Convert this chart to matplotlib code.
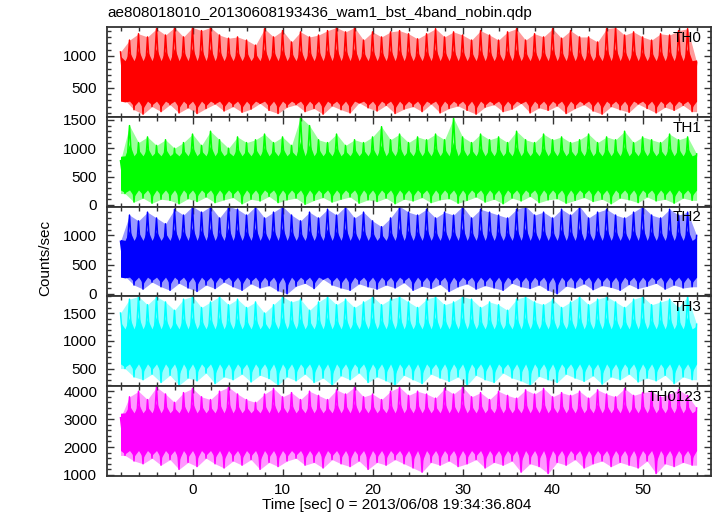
import numpy as np
import matplotlib
matplotlib.use("Agg")
import matplotlib.pyplot as plt
from matplotlib.ticker import MultipleLocator, AutoMinorLocator

plt.rcParams['font.family'] = ['Liberation Sans', 'DejaVu Sans']

title = "ae808018010_20130608193436_wam1_bst_4band_nobin.qdp"
xlabel = "Time [sec] 0 = 2013/06/08 19:34:36.804"
ylabel = "Counts/sec"

names = ["TH0", "TH1", "TH2", "TH3", "TH0123"]
colors = ["#ff0000", "#00ff00", "#0000ff", "#00ffff", "#ff00ff"]

# envelope read per second, t = -8 .. 56 (peaks at whole seconds, dips between)
t_start, t_end = -8, 56

th0_hi = [1063, 1250, 1350, 1300, 1430, 1330, 1450, 1300, 1450, 1400, 1450, 1330, 1280,
          1300, 1250, 1170, 1430, 1300, 1400, 1220, 1380, 1300, 1330, 1400, 1450, 1380,
          1450, 1250, 1380, 1300, 1380, 1400, 1350, 1270, 1350, 1430, 1300, 1380, 1330,
          1250, 1400, 1330, 1250, 1380, 1430, 1250, 1350, 1300, 1430, 1280, 1400, 1300,
          1300, 1220, 1430, 1450, 1330, 1380, 1300, 1250, 1350, 1330, 1400, 1430, 900]
th0_lo = [300, 150, 80, 200, 120, 230, 100, 180, 90, 170, 240, 130, 200, 110, 160, 250,
          140, 90, 190, 230, 120, 170, 80, 210, 150, 100, 260, 180, 130, 220, 90, 160,
          200, 120, 240, 100, 170, 210, 140, 80, 190, 230, 120, 160, 250, 100, 180, 140,
          210, 90, 170, 230, 130, 80, 200, 150, 110, 240, 170, 100, 190, 140, 220, 120]

th1_hi = [780, 1400, 1100, 1200, 1050, 1150, 1000, 1100, 1250, 1050, 1300, 1150, 1000,
          1200, 1100, 1150, 1250, 1100, 1200, 1050, 1550, 1400, 1150, 1100, 1250, 1050,
          1150, 1100, 1200, 1380, 1150, 1250, 1100, 1200, 1150, 1250, 1150, 1530, 1200,
          1100, 1250, 1150, 1200, 1100, 1300, 1150, 1100, 1250, 1150, 1200, 1100, 1150,
          1250, 1100, 1200, 1150, 1300, 1100, 1200, 1150, 1100, 1250, 1150, 1200, 900]
th1_lo = [200, 50, 120, 30, 100, 80, 20, 110, 60, 140, 40, 90, 130, 20, 100, 70, 150, 40,
          90, 120, 10, 80, 130, 50, 100, 140, 30, 90, 60, 120, 20, 100, 70, 130, 40, 90,
          110, 30, 80, 140, 50, 100, 20, 120, 70, 150, 40, 90, 110, 30, 80, 130, 60, 100,
          20, 120, 90, 40, 140, 70, 100, 30, 120, 80]

th2_hi = [900, 1350, 1250, 1400, 1300, 1200, 1450, 1350, 1500, 1400, 1500, 1300, 1500,
          1450, 1350, 1500, 1300, 1400, 1500, 1350, 1250, 1400, 1300, 1450, 1350, 1500,
          1300, 1400, 1250, 1150, 1300, 1500, 1400, 1350, 1450, 1300, 1400, 1350, 1500,
          1300, 1450, 1400, 1350, 1300, 1450, 1500, 1350, 1400, 1300, 1450, 1350, 1500,
          1300, 1400, 1450, 1350, 1300, 1400, 1500, 1350, 1300, 1450, 1350, 1400, 1000]
th2_lo = [300, 150, 80, 200, 120, 60, 180, 100, 40, 150, 90, 200, 120, 60, 170, 100, 140,
          50, 0, 130, 180, 90, 250, 150, 100, 60, 170, 120, 80, 150, 100, 190, 60, 130, 90,
          160, 40, 120, 170, 80, 140, 100, 60, 180, 120, 90, 150, 60, 0, 130, 100, 170, 70,
          140, 110, 60, 160, 90, 130, 180, 80, 150, 100, 120]

th3_hi = [1500, 1750, 1800, 1650, 1800, 1700, 1550, 1750, 1800, 1600, 1700, 1800, 1650,
          1750, 1600, 1700, 1500, 1650, 1800, 1700, 1750, 1550, 1700, 1800, 1650, 1750,
          1600, 1700, 1800, 1650, 1750, 1800, 1700, 1600, 1750, 1800, 1650, 1700, 1800,
          1750, 1600, 1700, 1650, 1550, 1750, 1800, 1700, 1650, 1750, 1600, 1700, 1800,
          1650, 1750, 1800, 1700, 1600, 1750, 1800, 1650, 1700, 1750, 1600, 1800, 1300]
th3_lo = [500, 350, 300, 400, 250, 380, 200, 330, 280, 420, 230, 350, 300, 400, 260, 380,
          320, 200, 350, 280, 400, 250, 330, 200, 370, 300, 420, 250, 350, 280, 200, 380,
          300, 230, 400, 330, 270, 350, 200, 380, 300, 250, 420, 330, 280, 200, 360, 300,
          250, 400, 330, 270, 370, 220, 350, 300, 400, 260, 330, 280, 380, 230, 350, 300]

th0123_hi = [3050, 3800, 4000, 3700, 4150, 3900, 3600, 3950, 4100, 3800, 3700, 4000, 4150,
             3900, 3700, 3600, 3900, 4100, 3800, 3950, 3700, 4000, 3850, 3700, 4050, 3900,
             4150, 3800, 3900, 3700, 4000, 4150, 3850, 4000, 3900, 3750, 4100, 3900, 4150,
             3800, 3950, 3700, 4000, 3850, 3750, 4050, 3900, 4100, 3800, 3950, 3850, 4000,
             3750, 4050, 3900, 3800, 4100, 3850, 3950, 4000, 3800, 3900, 4050, 3850, 3400]
th0123_lo = [1700, 1500, 1400, 1600, 1350, 1550, 1200, 1450, 1300, 1600, 1400, 1250, 1500,
             1350, 1550, 1200, 1450, 1300, 1500, 1600, 1350, 1450, 1250, 1550, 1400, 1300,
             1500, 1200, 1450, 1350, 1550, 1400, 1250, 1100, 1450, 1350, 1500, 1300, 1400,
             1550, 1250, 1450, 1350, 1500, 1100, 1400, 1300, 1050, 1450, 1350, 1550, 1250,
             1400, 1500, 1300, 1450, 1350, 1250, 1500, 1050, 1400, 1300, 1450, 1350]

# solid middle band of each curve
core = [(250, 960), (230, 900), (250, 950), (550, 1250), (1800, 3300)]

his = [th0_hi, th1_hi, th2_hi, th3_hi, th0123_hi]
los = [th0_lo, th1_lo, th2_lo, th3_lo, th0123_lo]

ylims = [(38, 1457), (-30, 1555), (-45, 1495), (183, 1800), (962, 4180)]
ymajor = [500, 500, 500, 500, 1000]

fig = plt.figure(figsize=(7.17, 5.16), dpi=100)
left, right = 107 / 717, 711 / 717
top, bottom = 1 - 27 / 516, 1 - 476 / 516
h = (top - bottom) / 5

edge = "#333333"
fs = 11
for i in range(5):
    ax = fig.add_axes([left, top - (i + 1) * h, right - left, h])
    hi = np.array(his[i], float)
    lo = np.array(los[i], float)
    t_hi = np.arange(t_start, t_end + 0.5, 1.0)
    t_lo = t_hi[:-1] + 0.5
    t = np.empty(len(t_hi) + len(t_lo))
    y = np.empty_like(t)
    t[0::2], y[0::2] = t_hi, hi
    t[1::2], y[1::2] = t_lo, lo
    lo_env = np.interp(t, t_lo, lo)
    hi_env = np.interp(t, t_hi, hi)
    c0, c1 = core[i]
    # ragged solid band: pulled part way out towards the spikes
    in_top = np.where(t % 1 == 0, c1 + 0.35 * (hi_env - c1), c1 - 0.05 * (c1 - c0))
    in_bot = np.where(t % 1 != 0, c0 - 0.45 * (c0 - lo_env), c0 + 0.05 * (c1 - c0))
    c = colors[i]
    ax.fill_between(t, lo_env, hi_env, color=c, alpha=0.4, lw=0)
    ax.fill_between(t, in_bot, in_top, color=c, lw=0)
    ax.plot(t, y, color=c, lw=1.1)

    ax.set_xlim(-9.5, 57.6)
    ax.set_ylim(*ylims[i])
    ax.yaxis.set_major_locator(MultipleLocator(ymajor[i]))
    ax.yaxis.set_minor_locator(AutoMinorLocator(5))
    ax.xaxis.set_major_locator(MultipleLocator(10))
    ax.xaxis.set_minor_locator(AutoMinorLocator(5))
    ax.tick_params(which='both', direction='in', top=True, right=True, color=edge, width=1)
    ax.tick_params(which='major', length=5, labelsize=fs)
    ax.tick_params(which='minor', length=3)
    ax.tick_params(axis='y', pad=7)
    ax.tick_params(axis='x', pad=5)
    for s in ax.spines.values():
        s.set_color(edge)
        s.set_linewidth(1.3)
    if i < 4:
        ax.tick_params(labelbottom=False)
    ax.text(0.985, 0.88, names[i], transform=ax.transAxes, ha='right', va='center',
            fontsize=fs)

fig.text(left, 1 - 13 / 516, title, ha='left', va='center', fontsize=fs)
fig.text(45 / 717, 1 - 258 / 516, ylabel, rotation=90, ha='center', va='center', fontsize=fs)
fig.text(397 / 717, 1 - 505 / 516, xlabel, ha='center', va='center', fontsize=fs)

fig.savefig("out.png", dpi=100)
